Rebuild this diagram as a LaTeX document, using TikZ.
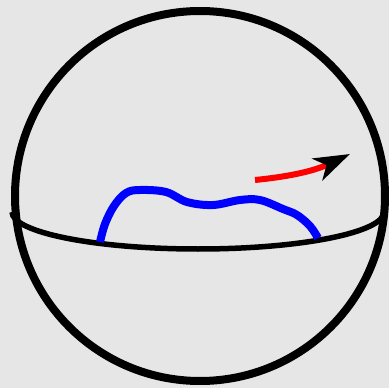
\documentclass[tikz,border=0pt]{standalone}
\usetikzlibrary{arrows.meta}
\definecolor{bg}{RGB}{230,230,230}
\begin{document}
\begin{tikzpicture}[x=1pt,y=-1pt,
  sphere/.style={line width=8pt,black},
  equator/.style={line width=5.5pt,black},
  curveblue/.style={line width=8pt,blue},
  arrowred/.style={line width=6pt,red}]
\fill[bg] (0,0) rectangle (389,388);
\useasboundingbox (0,0) rectangle (389,388);
\coordinate (c) at (200,196);
\draw[sphere] (c) circle[radius=185pt];
\coordinate (eqL) at (12,212);
\draw[equator] (eqL) arc[start angle=180,end angle=360,x radius=186pt,y radius=37pt];
\draw[curveblue] plot[smooth,tension=0.6] coordinates {(100,242) (105,224) (114,206) (126,193) (140,190) (166,192) (187,202) (213,205) (240,200) (260,200) (283,209) (297,215) (310,226) (318,238)};
\coordinate (rs) at (255,180);
\coordinate (tip) at (350,154);
\draw[arrowred,-{Stealth[black,length=36pt,width=24pt,inset=10pt]}] (rs) .. controls (285,177) and (312,172) .. (tip);
\end{tikzpicture}
\end{document}
